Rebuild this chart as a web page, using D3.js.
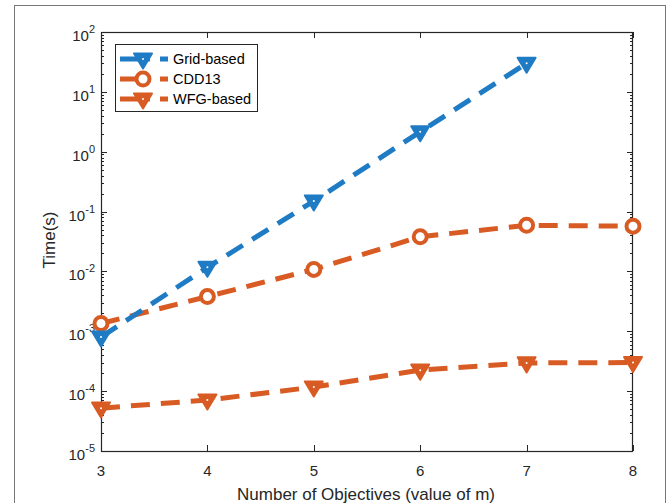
<!DOCTYPE html>
<html><head><meta charset="utf-8">
<script src="https://cdn.jsdelivr.net/npm/d3@7"></script>
<style>body{margin:0;background:#fff}svg{display:block;font-family:"Liberation Sans",Arial,sans-serif}</style>
</head><body><svg id="c" width="669" height="503"></svg>
<script>
const xValues = [3, 4, 5, 6, 7, 8];
const gridBased = [8.0e-4, 0.0117, 0.15, 2.15, 30, null];
const cdd13 = [1.35e-3, 3.8e-3, 0.0108, 0.038, 0.059, 0.057];
const wfgBased = [5.2e-5, 7.1e-5, 1.17e-4, 2.24e-4, 2.96e-4, 3.0e-4];
const yTickExps = [-5, -4, -3, -2, -1, 0, 1, 2];
const seriesNames = ["Grid-based", "CDD13", "WFG-based"];

const svg = d3.select("#c");
const L = 101, R = 633, T = 32, B = 451;
const x = d3.scaleLinear().domain([3, 8]).range([L, R]);
const y = d3.scaleLog().domain([1e-5, 1e2]).range([B, T]);
const axisColor = "#262626";

// outer frame
svg.append("rect").attr("x", 14.5).attr("y", 5.5).attr("width", 651).attr("height", 520)
  .attr("fill", "none").attr("stroke", "#777").attr("stroke-width", 1);

svg.append("rect").attr("x", L).attr("y", T).attr("width", R - L).attr("height", B - T).attr("fill", "#fff");

// minor ticks
const minor = [];
for (let e = -5; e < 2; e++) for (let k = 2; k <= 9; k++) minor.push(k * Math.pow(10, e));
const g = svg.append("g").attr("stroke", axisColor).attr("stroke-width", 1);
minor.forEach(v => {
  const yy = Math.round(y(v)) + 0.5;
  g.append("line").attr("x1", L).attr("x2", L + 3).attr("y1", yy).attr("y2", yy);
  g.append("line").attr("x1", R).attr("x2", R - 3).attr("y1", yy).attr("y2", yy);
});
yTickExps.forEach(e => {
  const yy = Math.round(y(Math.pow(10, e))) + 0.5;
  g.append("line").attr("x1", L).attr("x2", L + 6).attr("y1", yy).attr("y2", yy);
  g.append("line").attr("x1", R).attr("x2", R - 6).attr("y1", yy).attr("y2", yy);
});
xValues.forEach(v => {
  const xx = Math.round(x(v)) + 0.5;
  g.append("line").attr("x1", xx).attr("x2", xx).attr("y1", B).attr("y2", B - 6);
  g.append("line").attr("x1", xx).attr("x2", xx).attr("y1", T).attr("y2", T + 6);
});
svg.append("rect").attr("x", L + 0.5).attr("y", T + 0.5).attr("width", R - L - 1).attr("height", B - T)
  .attr("fill", "none").attr("stroke", axisColor).attr("stroke-width", 1.2);

// tick labels
yTickExps.forEach(e => {
  const t = svg.append("text").attr("x", 95).attr("y", y(Math.pow(10, e)) + 9)
    .attr("text-anchor", "end").attr("font-size", 15).attr("fill", "#262626");
  t.append("tspan").text("10");
  t.append("tspan").attr("font-size", 11).attr("dy", -8).text(String(e));
});
xValues.forEach(v => {
  svg.append("text").attr("x", x(v)).attr("y", 476).attr("text-anchor", "middle")
    .attr("font-size", 15).attr("fill", "#262626").text(v);
});
svg.append("text").attr("x", 366).attr("y", 500).attr("text-anchor", "middle")
  .attr("font-size", 17).attr("fill", "#262626").text("Number of Objectives (value of m)");
svg.append("text").attr("transform", "translate(55," + 240 + ") rotate(-90)")
  .attr("text-anchor", "middle").attr("font-size", 17).attr("fill", "#262626").text("Time(s)");

const blue = "#1f7cc4", orange = "#d95b24";
const series = [
  {name: seriesNames[0], vals: gridBased, color: blue, marker: "tri"},
  {name: seriesNames[1], vals: cdd13, color: orange, marker: "circ"},
  {name: seriesNames[2], vals: wfgBased, color: orange, marker: "tri"}
];
const triPath = (cx, cy, s) => `M${cx - s},${cy - s * 0.62}L${cx + s},${cy - s * 0.62}L${cx},${cy + s * 1.05}Z`;
function drawMarker(sel, m, cx, cy, color) {
  if (m === "tri") {
    sel.append("path").attr("d", triPath(cx, cy, 9)).attr("fill", color).attr("stroke", color)
      .attr("stroke-width", 2).attr("stroke-linejoin", "round");
    sel.append("circle").attr("cx", cx).attr("cy", cy).attr("r", 1).attr("fill", "#fff");
  } else {
    sel.append("circle").attr("cx", cx).attr("cy", cy).attr("r", 6.5).attr("fill", "#fff")
      .attr("stroke", color).attr("stroke-width", 4);
  }
}
const line = d3.line().defined(d => d.v != null).x(d => x(d.x)).y(d => y(d.v));
const plot = svg.append("g");
series.slice().reverse().forEach(s => {
  const data = xValues.map((xv, i) => ({x: xv, v: s.vals[i]}));
  plot.append("path").datum(data).attr("d", line).attr("fill", "none").attr("stroke", s.color)
    .attr("stroke-width", 5).attr("stroke-dasharray", "19,11");
  data.filter(d => d.v != null).forEach(d => drawMarker(plot, s.marker, x(d.x), y(d.v), s.color));
});

// legend
const lg = svg.append("g");
lg.append("rect").attr("x", 115.5).attr("y", 44.5).attr("width", 142).attr("height", 67)
  .attr("fill", "#fff").attr("stroke", axisColor).attr("stroke-width", 1);
series.forEach((s, i) => {
  const yy = 59 + i * 20;
  lg.append("line").attr("x1", 120).attr("x2", 168).attr("y1", yy).attr("y2", yy)
    .attr("stroke", s.color).attr("stroke-width", 5).attr("stroke-dasharray", "30,10,8");
  drawMarker(lg, s.marker, 143, yy, s.color);
  lg.append("text").attr("x", 173).attr("y", yy + 5).attr("font-size", 14.5).attr("fill", "#000").text(s.name);
});
</script></body></html>
